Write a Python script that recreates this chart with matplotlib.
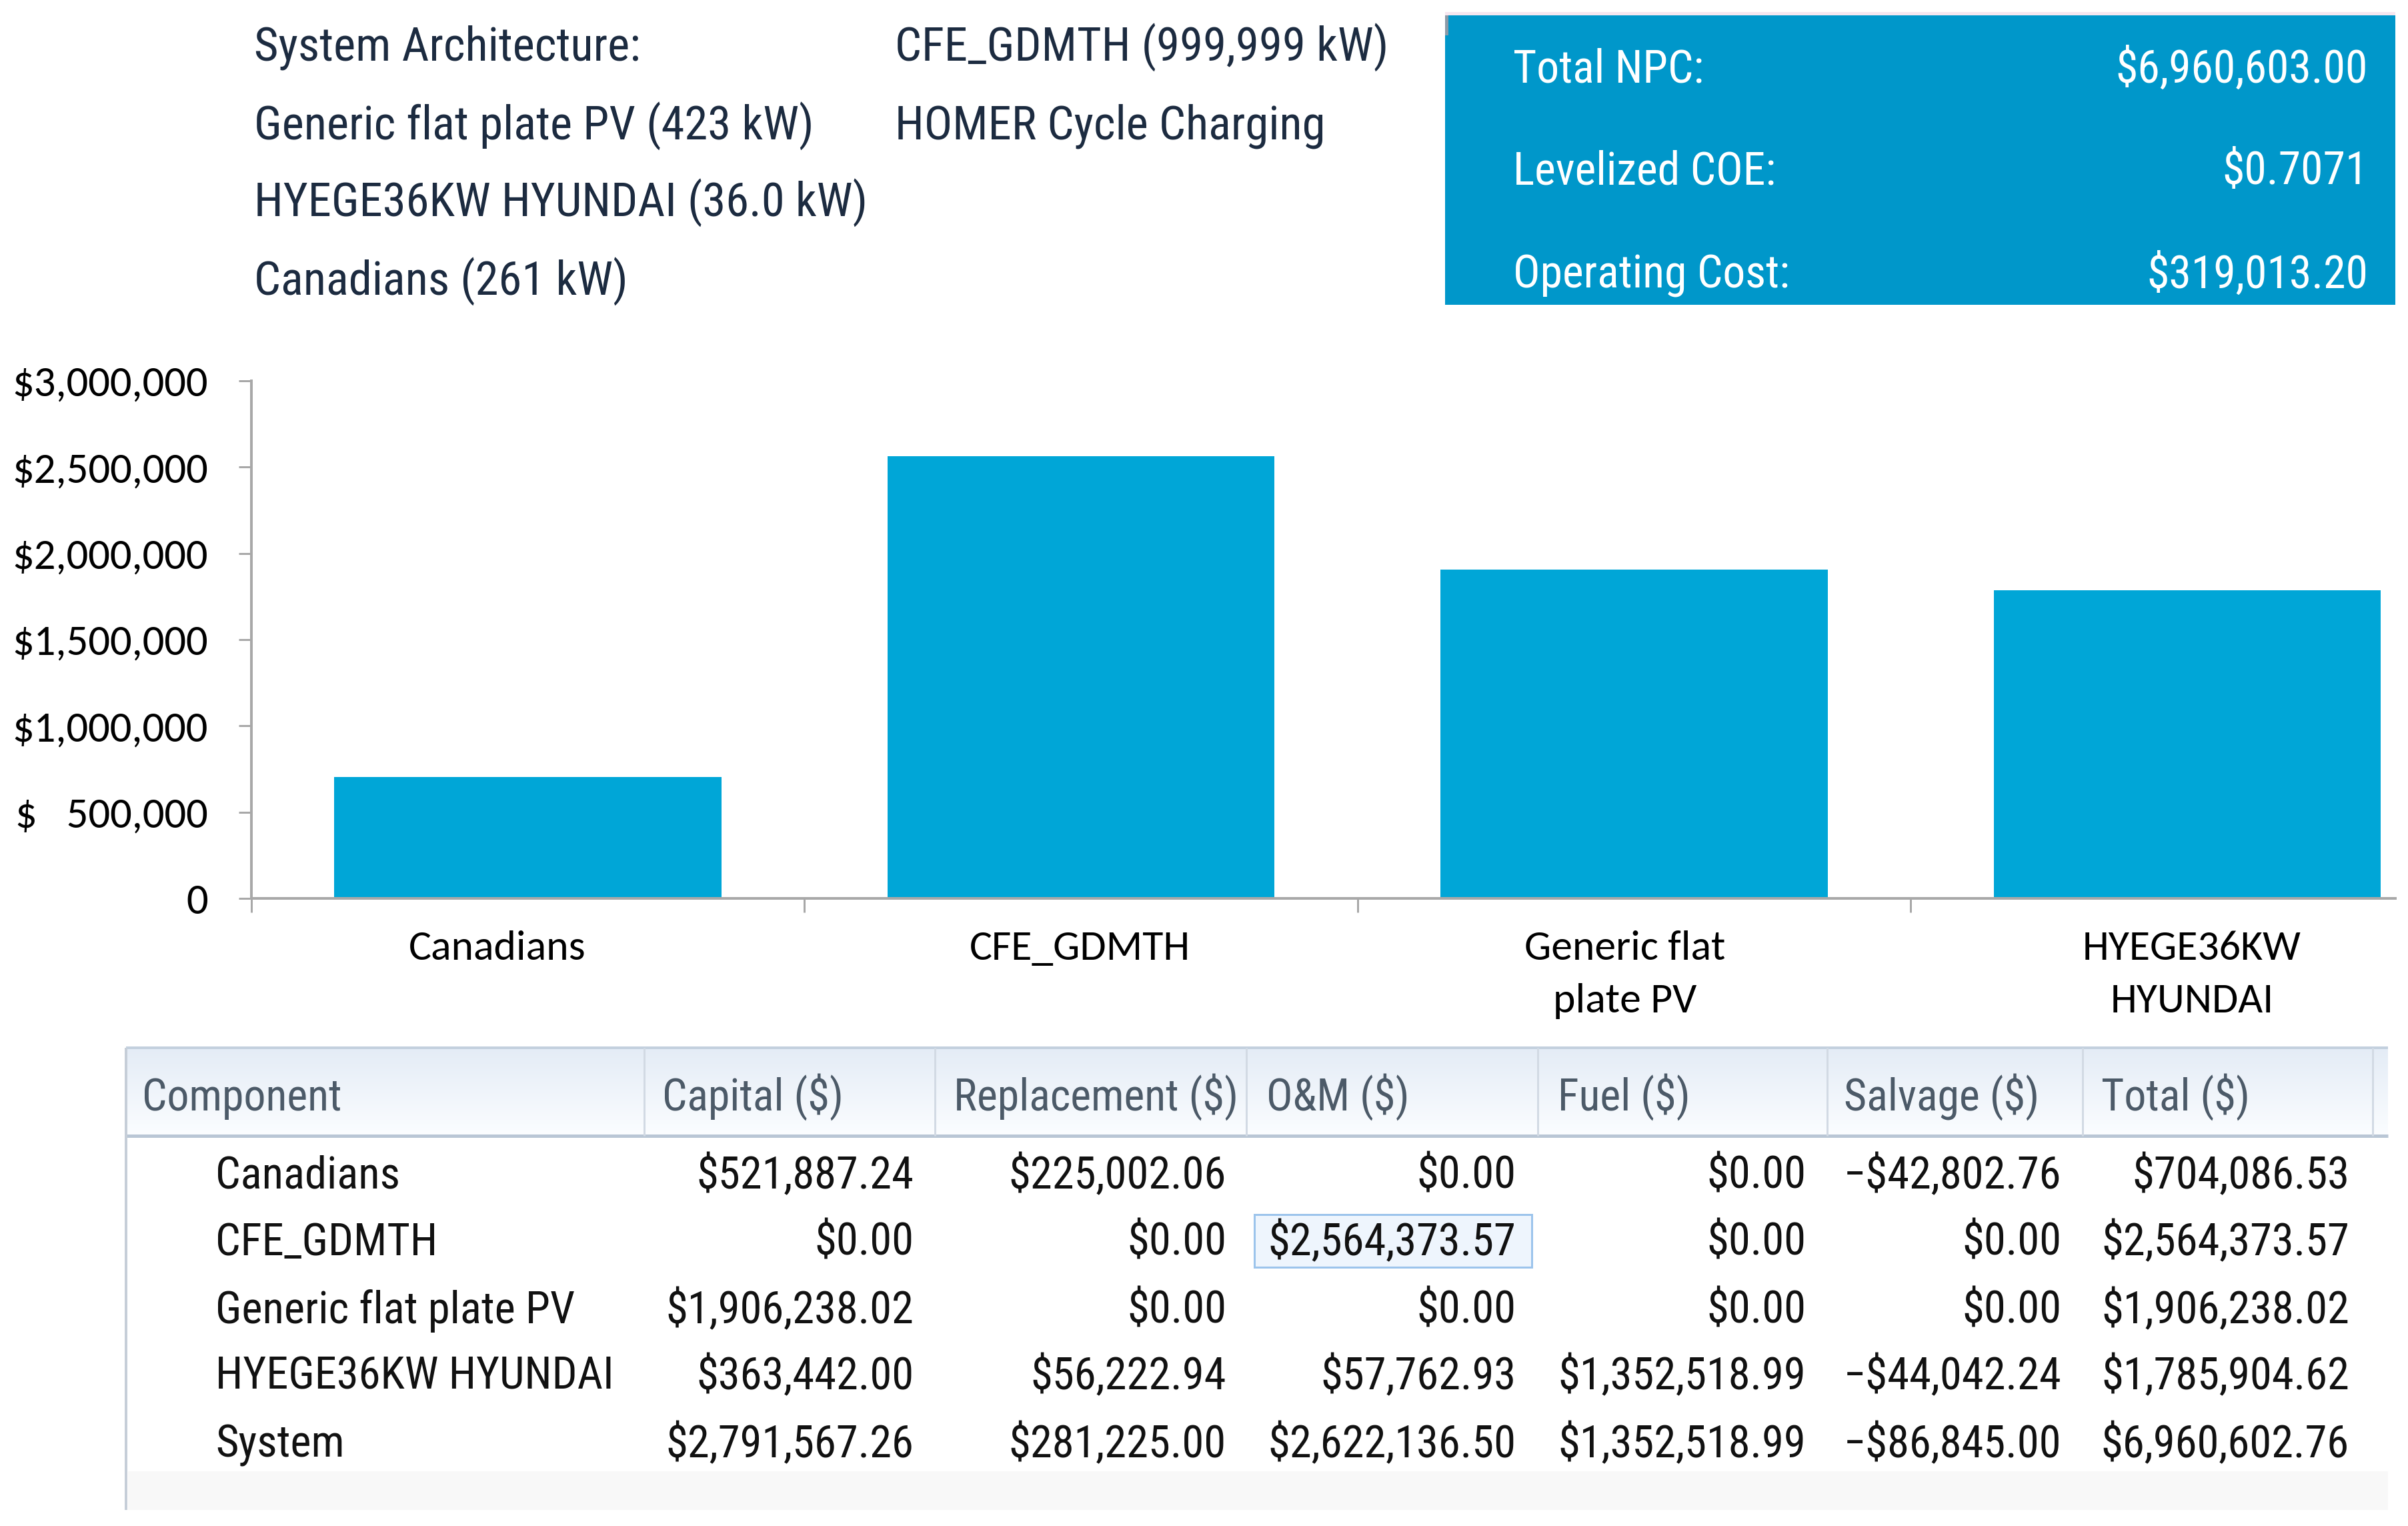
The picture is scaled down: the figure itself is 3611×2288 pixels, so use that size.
import matplotlib
matplotlib.use('Agg')
import matplotlib.pyplot as plt
import matplotlib.font_manager as fm
from matplotlib.patches import Rectangle
from matplotlib.colors import LinearSegmentedColormap
import numpy as np

# ---------------- data ----------------
arch_left = ['System Architecture:', 'Generic flat plate PV (423 kW)',
             'HYEGE36KW HYUNDAI (36.0 kW)', 'Canadians (261 kW)']
arch_right = ['CFE_GDMTH (999,999 kW)', 'HOMER Cycle Charging']

summary_labels = ['Total NPC:', 'Levelized COE:', 'Operating Cost:']
summary_values = ['$6,960,603.00', '$0.7071', '$319,013.20']

categories = ['Canadians', 'CFE_GDMTH', 'Generic flat plate PV', 'HYEGE36KW HYUNDAI']
cat_labels = [['Canadians'], ['CFE_GDMTH'], ['Generic flat', 'plate PV'], ['HYEGE36KW', 'HYUNDAI']]
bar_values = [704086.53, 2564373.57, 1906238.02, 1785904.62]

ytick_values = [0, 500000, 1000000, 1500000, 2000000, 2500000, 3000000]

table_columns = ['Component', 'Capital ($)', 'Replacement ($)', 'O&M ($)', 'Fuel ($)', 'Salvage ($)', 'Total ($)']
row_names = ['Canadians', 'CFE_GDMTH', 'Generic flat plate PV', 'HYEGE36KW HYUNDAI', 'System']
capital = [521887.24, 0.00, 1906238.02, 363442.00, 2791567.26]
replacement = [225002.06, 0.00, 0.00, 56222.94, 281225.00]
om = [0.00, 2564373.57, 0.00, 57762.93, 2622136.50]
fuel = [0.00, 0.00, 0.00, 1352518.99, 1352518.99]
salvage = [-42802.76, 0.00, 0.00, -44042.24, -86845.00]
total = [704086.53, 2564373.57, 1906238.02, 1785904.62, 6960602.76]

# ---------------- fonts ----------------
entries = {(f.name, f.stretch) for f in fm.fontManager.ttflist}
names = {f.name for f in fm.fontManager.ttflist}

def pick_ui():
    cands = [('Segoe UI', None), ('Liberation Sans Narrow', None), ('Roboto Condensed', None),
             ('Noto Sans', 'semi-condensed'), ('Open Sans', 'semi-condensed'),
             ('Noto Sans', 'condensed'), ('Open Sans', 'condensed')]
    for name, st in cands:
        if st is None and name in names:
            return [name, 'DejaVu Sans'], 'normal'
        if st is not None and (name, st) in entries:
            return [name, 'DejaVu Sans'], st
    return ['Open Sans', 'DejaVu Sans'], 'normal'

ui_font, ui_stretch = pick_ui()
chart_font = [c for c in ['Calibri', 'Carlito', 'Open Sans'] if c in names] + ['DejaVu Sans']

W, H = 3611, 2288
DPI = 100
PT = DPI / 72.0
fig = plt.figure(figsize=(W / DPI, H / DPI), dpi=DPI)
fig.patch.set_facecolor('white')
renderer = fig.canvas.get_renderer()

def width_px(s, fam, size, stretch='normal'):
    t = fig.text(0, 0, s, fontsize=size, family=fam, fontstretch=stretch)
    w = t.get_window_extent(renderer).width
    t.remove()
    return w

def fit(s, fam, target, stretch='normal'):
    return 40 * target / width_px(s, fam, 40, stretch)

def money(v):
    return ('\u2212' if v < 0 else '') + '$' + f'{abs(v):,.2f}'

sz_arch = fit('Generic flat plate PV (423 kW)', ui_font, 839, ui_stretch)
sz_sum = fit('$6,960,603.00', ui_font, 379, ui_stretch)
sz_tick = fit('$3,000,000', chart_font, 293)
sz_xlab = fit('CFE_GDMTH', chart_font, 330)
sz_thead = fit('Replacement ($)', ui_font, 427, ui_stretch)
sz_tbody = fit('Generic flat plate PV', ui_font, 538, ui_stretch)

UI = dict(family=ui_font, fontstretch=ui_stretch)

# ---------------- overlay (pixel coordinates) ----------------
ov = fig.add_axes([0, 0, 1, 1], zorder=0)
ov.set_xlim(0, W)
ov.set_ylim(H, 0)
ov.axis('off')

def bl(yc, size):
    return yc + 0.36 * size * PT

text_dark = '#1c2b40'

# architecture text
arch_y = [65, 183, 298, 416]
for s, y in zip(arch_left, arch_y):
    ov.text(381, bl(y, sz_arch), s, fontsize=sz_arch, color=text_dark, va='baseline', ha='left', **UI)
for s, y in zip(arch_right, arch_y):
    ov.text(1342, bl(y, sz_arch), s, fontsize=sz_arch, color=text_dark, va='baseline', ha='left', **UI)

# summary box
ov.add_patch(Rectangle((2167, 18), 3592 - 2167, 5, color='#f6e6ef', lw=0))
ov.add_patch(Rectangle((2167, 23), 3592 - 2167, 457 - 23, color='#0097ca', lw=0))
ov.add_patch(Rectangle((2167, 23), 5, 30, color='#8a9aa8', lw=0))
sum_y = [99, 252, 407]
for lab, val, y in zip(summary_labels, summary_values, sum_y):
    ov.text(2269, bl(y, sz_sum), lab, fontsize=sz_sum, color='white', va='baseline', ha='left', **UI)
    ov.text(3551, bl(y, sz_sum), val, fontsize=sz_sum, color='white', va='baseline', ha='right', **UI)

# table
tl, tr = 189, 3581
th_top, th_bot = 1571, 1703
grad = np.linspace(0, 1, 64).reshape(-1, 1)
cmap = LinearSegmentedColormap.from_list('hdr', ['#e4ecf6', '#fbfdff'])
ov.imshow(grad, extent=[tl, tr, th_bot, th_top], aspect='auto', cmap=cmap, zorder=0.5)
ov.set_xlim(0, W)
ov.set_ylim(H, 0)
ov.plot([tl, tr], [th_top, th_top], color='#c3d0de', lw=4 / PT, solid_capstyle='butt')
ov.plot([tl, tr], [th_bot, th_bot], color='#b9c6d5', lw=5 / PT, solid_capstyle='butt')
ov.plot([tl, tl], [th_top, 2264], color='#c6ced8', lw=4 / PT, solid_capstyle='butt')
sep_x = [966, 1402, 1869, 2306, 2740, 3123, 3558]
for xs in sep_x:
    ov.plot([xs, xs], [th_top, th_bot], color='#d2dae4', lw=3 / PT, solid_capstyle='butt')
ov.add_patch(Rectangle((tl + 3, 2206), tr - tl - 3, 2264 - 2206, color='#f8f8f8', lw=0))

head_x = [213, 993, 1430, 1899, 2336, 2765, 3151]
for s, xh in zip(table_columns, head_x):
    ov.text(xh, bl(1641, sz_thead), s, fontsize=sz_thead, color='#4c5a68', va='baseline', ha='left', **UI)

# selected cell highlight (O&M of CFE_GDMTH)
ov.add_patch(Rectangle((1881, 1821), 2297 - 1881, 1900 - 1821, facecolor='#eef5fd', edgecolor='#9cc4ec', lw=3 / PT))

row_y = [1758, 1858, 1960, 2059, 2161]
val_right = [1370, 1839, 2273, 2708, 3091, 3523]
cols = [capital, replacement, om, fuel, salvage, total]
for i, (name, y) in enumerate(zip(row_names, row_y)):
    ov.text(323, bl(y, sz_tbody), name, fontsize=sz_tbody, color='#111111', va='baseline', ha='left', **UI)
    for col, xr in zip(cols, val_right):
        ov.text(xr, bl(y, sz_tbody), money(col[i]), fontsize=sz_tbody,
                color='#111111', va='baseline', ha='right', **UI)

# ---------------- bar chart ----------------
ax_l, ax_r, ax_t, ax_b = 377, 3592, 571, 1347
ax = fig.add_axes([ax_l / W, (H - ax_b) / H, (ax_r - ax_l) / W, (ax_b - ax_t) / H], zorder=1)
ax.patch.set_alpha(0)
x = np.arange(len(categories))
ax.bar(x, bar_values, width=0.7, color='#00a6d7', zorder=2)
ax.set_ylim(0, 3000000)
cat_px = 829.4
ax.set_xlim(-0.5, -0.5 + (ax_r - ax_l) / cat_px)

for s in ['top', 'right']:
    ax.spines[s].set_visible(False)
for s in ['left', 'bottom']:
    ax.spines[s].set_color('#a8a8a8')
    ax.spines[s].set_linewidth(4 / PT)

# y tick labels with "$   500,000" style alignment
ref_w = width_px('$1,000,000', chart_font, sz_tick)
best, best_d = 1, 1e9
for n in range(1, 8):
    d = abs(width_px('$' + ' ' * n + '500,000', chart_font, sz_tick) - ref_w)
    if d < best_d:
        best, best_d = n, d
def ylab(v):
    if v == 0:
        return '0'
    if v < 1000000:
        return '$' + ' ' * best + f'{v:,.0f}'
    return '$' + f'{v:,.0f}'
ax.set_yticks(ytick_values)
ax.set_yticklabels([ylab(v) for v in ytick_values], fontsize=sz_tick, family=chart_font, color='#000000')
ax.tick_params(axis='y', length=19 / PT, width=3 / PT, color='#a8a8a8', pad=(358 - 312) / PT)

ax.set_xticks(x)
ax.set_xticklabels([])
ax.tick_params(axis='x', which='major', length=0)
ax.set_xticks(np.arange(len(categories)) - 0.5, minor=True)
ax.tick_params(axis='x', which='minor', length=21 / PT, width=3 / PT, color='#a8a8a8')

label_dx = [-46, -2, -14, 7]
line_y = [1416, 1495]
for i, lines in enumerate(cat_labels):
    for j, s in enumerate(lines):
        ax.annotate(s, xy=(x[i], 0), xycoords=('data', 'axes fraction'),
                    xytext=(label_dx[i], -(line_y[j] - ax_b) - 0.36 * sz_xlab * PT), textcoords='offset pixels',
                    ha='center', va='baseline', fontsize=sz_xlab, family=chart_font, color='#000000',
                    annotation_clip=False)

fig.savefig('out.png', dpi=DPI, facecolor='white')
